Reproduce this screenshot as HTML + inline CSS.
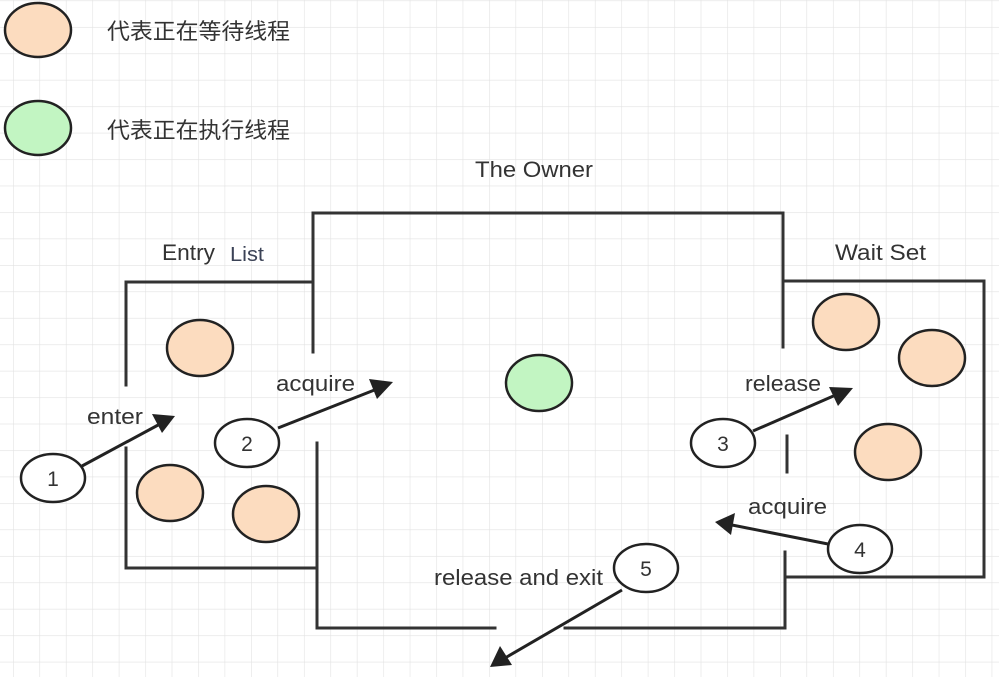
<!DOCTYPE html>
<html><head><meta charset="utf-8"><style>
html,body{margin:0;padding:0;background:#fff;}
svg{display:block;}
text{font-family:"Liberation Sans","Noto Sans CJK SC",sans-serif;fill:#333;}
</style></head><body>
<svg width="999" height="677" viewBox="0 0 999 677" xmlns="http://www.w3.org/2000/svg">
<defs>
<pattern id="g" x="13" y="0.5" width="26.45" height="26.45" patternUnits="userSpaceOnUse">
<path d="M0 0V26.45M0 0H26.45" stroke="#e2e2e2" stroke-width="1.2" fill="none"/>
</pattern>
</defs>
<rect width="999" height="677" fill="url(#g)"/>
<g stroke="#333" stroke-width="3" fill="none" stroke-linecap="square">
<path d="M126 385V282H313"/>
<path d="M126 448V568H316"/>
<path d="M313 352V213H783V347"/>
<path d="M317 443V628H495"/>
<path d="M565 628H785V552"/>
<path d="M787 436V472"/>
<path d="M783 281H984V577H786"/>
</g>
<g stroke="#222" stroke-width="2.5" fill="#fcdcbf">
<ellipse cx="38" cy="30" rx="33" ry="27"/>
<ellipse cx="200" cy="348" rx="33" ry="28"/>
<ellipse cx="170" cy="493" rx="33" ry="28"/>
<ellipse cx="266" cy="514" rx="33" ry="28"/>
<ellipse cx="846" cy="322" rx="33" ry="28"/>
<ellipse cx="932" cy="358" rx="33" ry="28"/>
<ellipse cx="888" cy="452" rx="33" ry="28"/>
<ellipse cx="38" cy="128" rx="33" ry="27" fill="#c2f5c2"/>
<ellipse cx="539" cy="383" rx="33" ry="28" fill="#c2f5c2"/>
</g>
<g stroke="#222" stroke-width="2.5" fill="#fff">
<ellipse cx="53" cy="478" rx="32" ry="24"/>
<ellipse cx="247" cy="443" rx="32" ry="24"/>
<ellipse cx="723" cy="443" rx="32" ry="24"/>
<ellipse cx="860" cy="549" rx="32" ry="24"/>
<ellipse cx="646" cy="568" rx="32" ry="24"/>
</g>
<g stroke="#222" stroke-width="3">
<line x1="82" y1="466" x2="160" y2="424"/>
<line x1="278" y1="428" x2="377" y2="389"/>
<line x1="753" y1="431" x2="838" y2="394"/>
<line x1="828" y1="544" x2="732" y2="525"/>
<line x1="622" y1="590" x2="505" y2="658"/>
</g>
<g fill="#222">
<polygon points="175,416 152,414 162,433"/>
<polygon points="393,382 369,379 377,399"/>
<polygon points="853,388 829,387 838,406"/>
<polygon points="715,522 735,513 731,535"/>
<polygon points="490,667 500,646 512,665"/>
</g>
<g font-size="21" text-anchor="middle">
<text x="53" y="486">1</text>
<text x="247" y="451">2</text>
<text x="723" y="451">3</text>
<text x="860" y="557">4</text>
<text x="646" y="576">5</text>
</g>
<g font-size="22">
<text x="87" y="424" textLength="56" lengthAdjust="spacingAndGlyphs">enter</text>
<text x="276" y="391" textLength="79" lengthAdjust="spacingAndGlyphs">acquire</text>
<text x="745" y="391" textLength="76" lengthAdjust="spacingAndGlyphs">release</text>
<text x="748" y="514" textLength="79" lengthAdjust="spacingAndGlyphs">acquire</text>
<text x="434" y="585" textLength="169" lengthAdjust="spacingAndGlyphs">release and exit</text>
<text x="475" y="177" textLength="118" lengthAdjust="spacingAndGlyphs">The Owner</text>
<text x="162" y="260" textLength="53" lengthAdjust="spacingAndGlyphs">Entry</text>
<text x="230" y="261" font-size="20" style="fill:#3b4256" textLength="34" lengthAdjust="spacingAndGlyphs">List</text>
<text x="835" y="260" textLength="91" lengthAdjust="spacingAndGlyphs">Wait Set</text>
<text x="107" y="39" textLength="183" lengthAdjust="spacingAndGlyphs">代表正在等待线程</text>
<text x="107" y="138" textLength="183" lengthAdjust="spacingAndGlyphs">代表正在执行线程</text>
</g>
</svg>
</body></html>
